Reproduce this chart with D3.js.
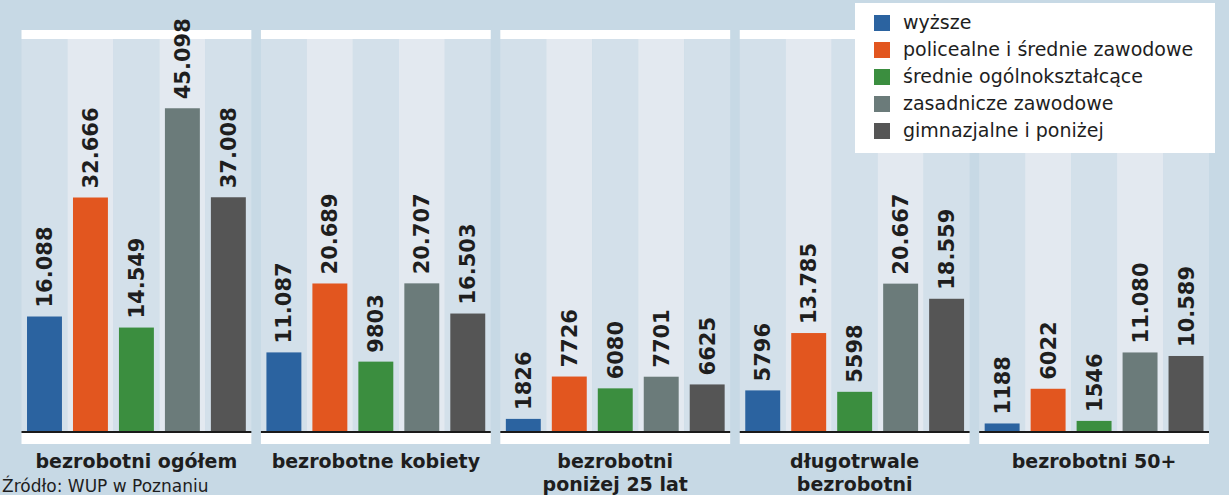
<!DOCTYPE html>
<html><head><meta charset="utf-8">
<script src="https://cdn.jsdelivr.net/npm/d3@7"></script>
<style>
html,body{margin:0;padding:0;background:#c7d9e5;}
svg{display:block;}
</style></head>
<body>
<svg id="chart" width="1229" height="495"></svg>
<script>
const categories = ["bezrobotni ogółem","bezrobotne kobiety","bezrobotni poniżej 25 lat","długotrwale bezrobotni","bezrobotni 50+"];
const categoryLines = [["bezrobotni ogółem"],["bezrobotne kobiety"],["bezrobotni","poniżej 25 lat"],["długotrwale","bezrobotni"],["bezrobotni 50+"]];
const seriesNames = ["wyższe","policealne i średnie zawodowe","średnie ogólnokształcące","zasadnicze zawodowe","gimnazjalne i poniżej"];
// bar heights as drawn in the picture
const wyzsze      = [16088, 11087, 1826, 5796, 1188];
const policealne  = [32666, 20689, 7726, 13785, 6022];
const srednie     = [14549, 9803, 6080, 5598, 1546];
const zasadnicze  = [45098, 20707, 7701, 20667, 11080];
const gimnazjalne = [32700, 16503, 6625, 18559, 10589];
// value labels as printed in the picture
const wyzszeLabels      = ["16.088","11.087","1826","5796","1188"];
const policealneLabels  = ["32.666","20.689","7726","13.785","6022"];
const srednieLabels     = ["14.549","9803","6080","5598","1546"];
const zasadniczeLabels  = ["45.098","20.707","7701","20.667","11.080"];
const gimnazjalneLabels = ["37.008","16.503","6625","18.559","10.589"];
const sourceText = "Źródło: WUP w Poznaniu";

const colors = ["#2b63a0","#e2561f","#3b8e3f","#6b7b7a","#555555"];
const series = [wyzsze, policealne, srednie, zasadnicze, gimnazjalne];
const seriesLabels = [wyzszeLabels, policealneLabels, srednieLabels, zasadniczeLabels, gimnazjalneLabels];

const svg = d3.select("#chart");
const baseY = 432, topY = 30;

const x0 = d3.scaleBand().domain(categories).range([21.5, 1209]).paddingInner(0.04).paddingOuter(0);
const x1 = d3.scaleBand().domain(seriesNames).range([0, x0.bandwidth()]).paddingInner(0.24).paddingOuter(0.12);
const y = d3.scaleLinear().domain([0, 56000]).range([baseY, topY]);

const slotW = x0.bandwidth() / seriesNames.length;

const groups = svg.selectAll("g.panel").data(categories).join("g")
  .attr("class","panel")
  .attr("transform", d => `translate(${x0(d)},0)`);

// stripes
groups.selectAll("rect.stripe").data(seriesNames).join("rect")
  .attr("class","stripe")
  .attr("x", (d,i) => i*slotW).attr("width", slotW)
  .attr("y", topY + 9).attr("height", baseY - topY - 9)
  .attr("fill", (d,i) => i % 2 === 0 ? "#d3e0ea" : "#e3e9f0");

// top white band
groups.append("rect").attr("x",0).attr("width",x0.bandwidth())
  .attr("y",topY).attr("height",9).attr("fill","#ffffff");
// bottom white band
groups.append("rect").attr("x",0).attr("width",x0.bandwidth())
  .attr("y",baseY+1).attr("height",11).attr("fill","#ffffff");

// bars
groups.each(function(cat, ci){
  const g = d3.select(this);
  const vals = seriesNames.map((s, si) => ({s, si, v: series[si][ci], label: seriesLabels[si][ci]}));
  g.selectAll("rect.bar").data(vals).join("rect")
    .attr("class","bar")
    .attr("x", d => x1(d.s)).attr("width", x1.bandwidth())
    .attr("y", d => y(d.v)).attr("height", d => baseY - y(d.v))
    .attr("fill", d => colors[d.si]);
  g.selectAll("text.val").data(vals).join("text")
    .attr("class","val")
    .attr("transform", d => `translate(${x1(d.s) + x1.bandwidth()/2},${y(d.v) - 9}) rotate(-90)`)
    .attr("text-anchor","start")
    .attr("dy","0.36em")
    .attr("font-family","DejaVu Sans")
    .attr("font-weight","bold")
    .attr("font-size", 21)
    .attr("fill","#1e1e1e")
    .text(d => d.label);
});

// baseline
groups.append("line").attr("x1",0).attr("x2",x0.bandwidth())
  .attr("y1",baseY).attr("y2",baseY).attr("stroke","#1a1a1a").attr("stroke-width",2);

// category labels
groups.append("text")
  .attr("x", x0.bandwidth()/2)
  .attr("text-anchor","middle")
  .attr("font-family","DejaVu Sans").attr("font-weight","bold").attr("font-size",19)
  .attr("fill","#1e1e1e")
  .each(function(d, i){
    const t = d3.select(this);
    categoryLines[i].forEach((ln, li) => {
      t.append("tspan").attr("x", x0.bandwidth()/2).attr("y", 468 + li*22.5).text(ln);
    });
  });

// source
svg.append("text").attr("x",2).attr("y",492)
  .attr("font-family","DejaVu Sans").attr("font-size",17).attr("fill","#1e1e1e")
  .text(sourceText);

// legend
const lg = svg.append("g").attr("transform","translate(855,3)");
lg.append("rect").attr("width",360).attr("height",150).attr("fill","#ffffff");
const li = lg.selectAll("g.li").data(seriesNames).join("g").attr("class","li")
  .attr("transform",(d,i)=>`translate(19,${20 + i*27})`);
li.append("rect").attr("x",0).attr("y",-8).attr("width",16).attr("height",16)
  .attr("fill",(d,i)=>colors[i]);
li.append("text").attr("x",29).attr("dy","0.32em")
  .attr("font-family","DejaVu Sans").attr("font-size",19).attr("fill","#1e1e1e")
  .text(d=>d);
</script>
</body></html>
